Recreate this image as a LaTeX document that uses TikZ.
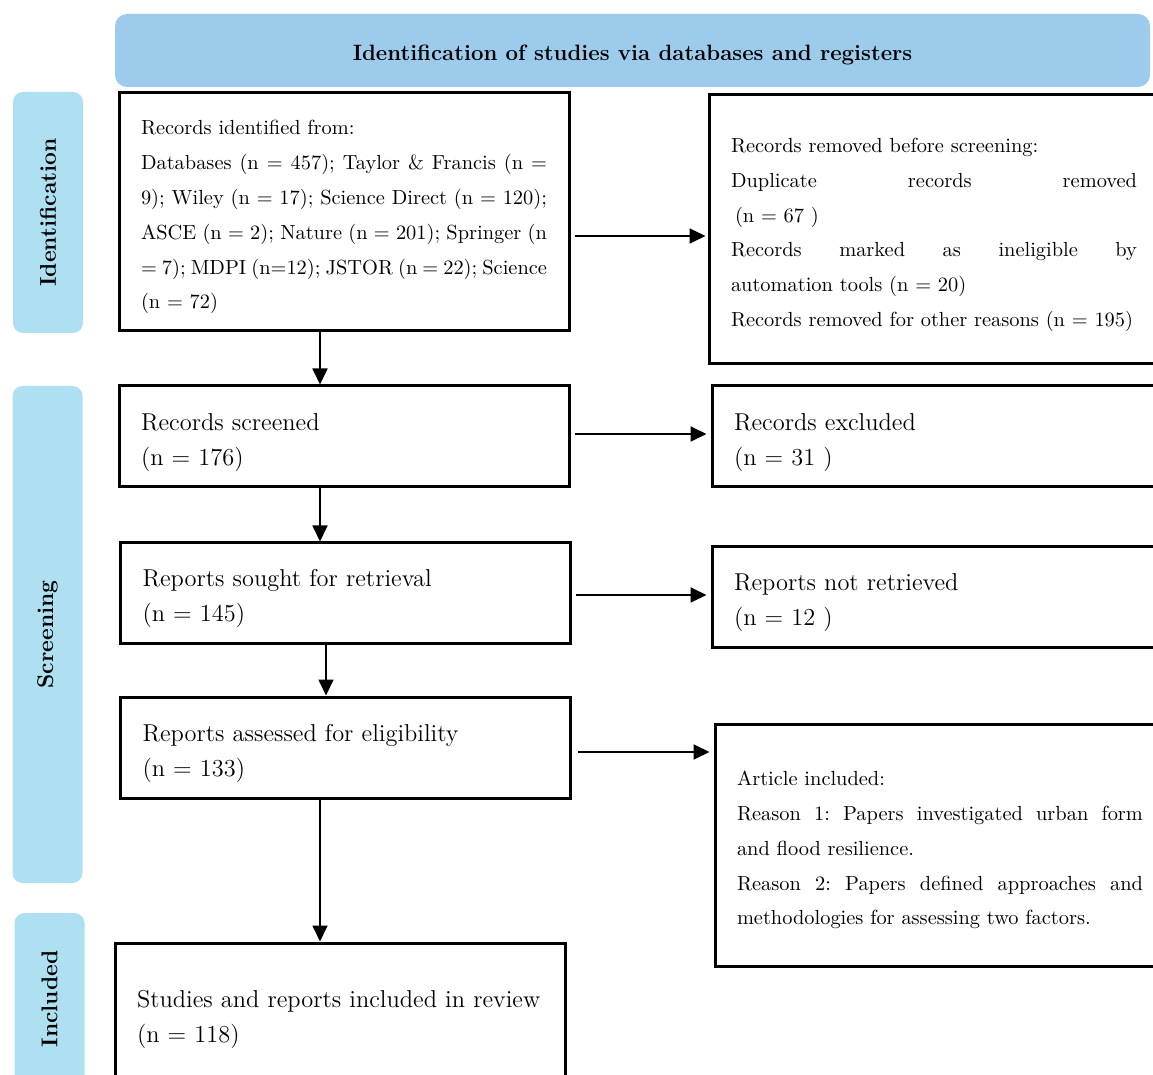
\documentclass[tikz,border=0pt]{standalone}
\usepackage{tikz}
\usetikzlibrary{arrows.meta}
\definecolor{bannerblue}{RGB}{157,203,236}
\definecolor{tabblue}{RGB}{174,224,241}
\frenchspacing
\tikzset{
	box/.style={draw, rectangle, line width=1.5pt, inner xsep=11pt, inner ysep=0pt, minimum width=225pt, text width=203pt, align=justify, execute at begin node={\rule{0pt}{12.5pt}}, font=\fontsize{10.2}{17.4}\selectfont},
	bigbox/.style={box, align=left, execute at begin node={\rule{0pt}{14.5pt}}, font=\fontsize{12.2}{17.5}\selectfont},
	tab/.style={fill=tabblue, rounded corners=5pt, rotate=90, minimum height=35pt, font=\fontsize{11.4}{13}\selectfont\bfseries},
	arr/.style={-{Triangle[length=8pt,width=7.5pt]}, line width=0.9pt},
}

\begin{document}
\begin{tikzpicture}[x=0.5pt, y=-0.5pt]
		\useasboundingbox (0,0) rectangle (1153,1075);
		\clip (0,0) rectangle (1153,1075);
		% header and phases
		\node[fill=bannerblue, rounded corners=6pt, minimum width=517.5pt, minimum height=36.5pt, text height=10pt, text depth=0pt, font=\fontsize{11.1}{13}\selectfont\bfseries] (head) at (632.5,50.5) {Identification of studies via databases and registers};
		\node[tab, minimum width=120.5pt] (tabid) at (48,212.5) {Identification};
		\node[tab, minimum width=248.5pt] (tabscr) at (47.5,634.5) {Screening};
		\node[tab, minimum width=86pt] (tabinc) at (49.5,999) {Included};
		% main column
		\node[box, minimum height=119pt] (ident) at (344,212) {Records identified from:\\
			Databases (n = 457); Taylor \& Francis (n =\linebreak
			9); Wiley (n = 17); Science Direct (n = 120);\linebreak
			ASCE (n = 2); Nature (n = 201); Springer (n\linebreak
			= 7); MDPI (n=12); JSTOR (n = 22); Science\linebreak
			(n = 72)};
		\node[bigbox, minimum height=50.5pt] (screen) at (344,436.5) {Records screened\\(n = 176)};
		\node[bigbox, minimum height=50pt] (sought) at (345.5,593) {Reports sought for retrieval\\(n = 145)};
		\node[bigbox, minimum height=50.5pt] (assess) at (345.5,747.5) {Reports assessed for eligibility\\(n = 133)};
		\node[bigbox, minimum height=71pt] (incl) at (340,1014) {Studies and reports included in review\\(n = 118)};
		% side column
		\node[box, minimum height=134.5pt] (removed) at (934,229.5) {Records removed before screening:\\
			Duplicate records removed\linebreak
			\hspace*{2pt}(n = 67 )\\
			Records marked as ineligible by\linebreak
			automation tools (n = 20)\\
			Records removed for other reasons (n = 195)};
		\node[bigbox, minimum height=50.5pt] (excl) at (937,436.5) {Records excluded\\(n = 31 )};
		\node[bigbox, minimum height=50pt] (notret) at (937,597) {Reports not retrieved\\(n = 12 )};
		\node[box, minimum height=121pt] (article) at (940,845) {Article included:\\
			Reason 1: Papers investigated urban form\linebreak
			and flood resilience.\\
			Reason 2: Papers defined approaches and\linebreak
			methodologies for assessing two factors.};
		% arrows
		\draw[arr] (ident.south -| 320,0) -- (screen.north -| 320,0);
		\draw[arr] (screen.south -| 320,0) -- (sought.north -| 320,0);
		\draw[arr] (sought.south -| 326,0) -- (assess.north -| 326,0);
		\draw[arr] (assess.south -| 320,0) -- (incl.north -| 320,0);
		\draw[arr, shorten <=2pt, shorten >=1pt] (ident.east |- 0,236) -- (removed.west |- 0,236);
		\draw[arr, shorten <=2pt, shorten >=2pt] (screen.east |- 0,434) -- (excl.west |- 0,434);
		\draw[arr, shorten <=2pt, shorten >=2pt] (sought.east |- 0,595) -- (notret.west |- 0,595);
		\draw[arr, shorten <=3pt, shorten >=2pt] (assess.east |- 0,752) -- (article.west |- 0,752);
	\end{tikzpicture}
\end{document}
